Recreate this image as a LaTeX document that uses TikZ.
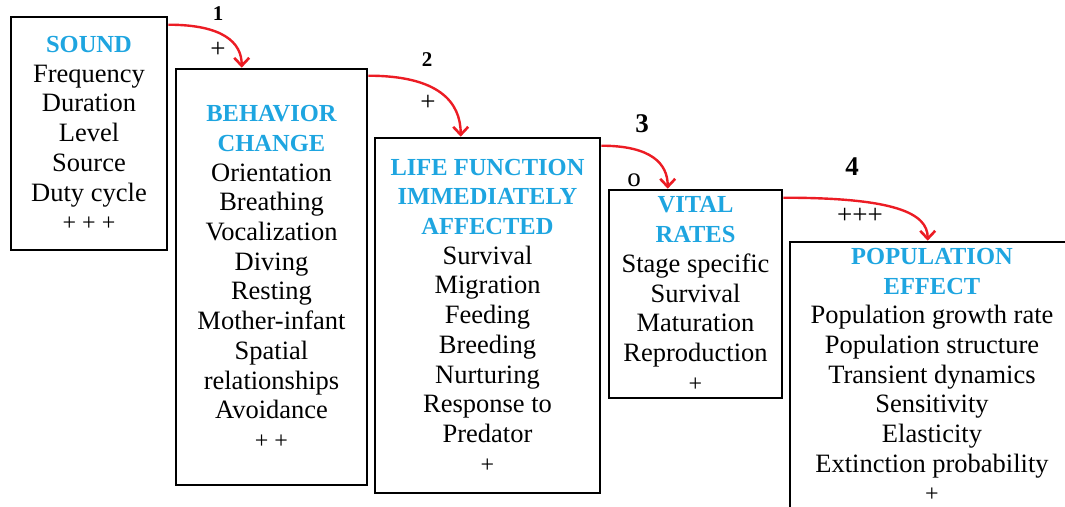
\documentclass[tikz,border=0pt]{standalone}
\usepackage{fontspec}
\setmainfont{Liberation Serif}
\newfontfamily\boxfont{Liberation Serif}
\usetikzlibrary{arrows.meta}
\definecolor{headcyan}{RGB}{30,165,224}
\definecolor{linkred}{RGB}{236,28,36}
\newcommand{\head}[1]{{\fontsize{24.5}{29.7}\selectfont\bfseries\color{headcyan}#1}}
\newcommand{\signs}[1]{{\fontsize{24}{29.7}\selectfont #1}}
\begin{document}
\begin{tikzpicture}[
    x = 1pt, y = -1pt,
    stage/.style = {
        draw,
        rectangle,
        line width = 2.6pt,
        align = center,
        inner sep = 0pt,
        font = \boxfont\fontsize{26.5}{29.7}\selectfont
    },
    link/.style = {
        draw = linkred,
        line width = 2.4pt,
        -{Straight Barb[length=8pt,width=15pt,line width=2.6pt]}
    },
    sign/.style = {font = \boxfont\fontsize{27}{28}\selectfont},
    stepno/.style = {font = \boxfont\fontsize{#1}{26}\selectfont\bfseries}
]
\useasboundingbox (0,0) rectangle (1065,506);
\clip (0,0) rectangle (1065,506);

% Boxes
\node[stage, minimum width = 156pt, minimum height = 233pt] (sound) at (89, 133.5)
    {\head{SOUND}\\Frequency\\Duration\\Level\\Source\\Duty cycle\\\signs{+ + +}};
\node[stage, minimum width = 191pt, minimum height = 416pt] (behav) at (271.5, 277)
    {\head{BEHAVIOR}\\\head{CHANGE}\\Orientation\\Breathing\\Vocalization\\Diving\\Resting\\Mother-infant\\Spatial\\relationships\\Avoidance\\\signs{+ +}};
\node[stage, minimum width = 225pt, minimum height = 355pt] (life) at (487.5, 315.5)
    {\head{LIFE FUNCTION}\\\head{IMMEDIATELY}\\\head{AFFECTED}\\Survival\\Migration\\Feeding\\Breeding\\Nurturing\\Response to\\Predator\\\signs{+}};
\node[stage, minimum width = 173pt, minimum height = 208pt] (vital) at (695.5, 294)
    {\head{VITAL}\\\head{RATES}\\Stage specific\\Survival\\Maturation\\Reproduction\\\signs{+}};
\node[stage, minimum width = 284pt, minimum height = 266pt] (pop) at (932, 375)
    {\head{POPULATION}\\\head{EFFECT}\\Population growth rate\\Population structure\\Transient dynamics\\Sensitivity\\Elasticity\\Extinction probability\\\signs{+}};

% Links
\draw[link] ([yshift=-9pt]sound.north east) .. controls +(55,0) and +(0,-25) .. ([xshift=67pt]behav.north west);
\draw[link] ([yshift=-8pt]behav.north east) .. controls +(70,0) and +(0,-35) .. ([xshift=87pt]life.north west);
\draw[link] ([yshift=-9pt]life.north east) .. controls +(50,0) and +(0,-25) .. ([xshift=60pt]vital.north west);
\draw[link] ([yshift=-9pt]vital.north east) .. controls +(110,0) and +(0,-28) .. ([xshift=139pt]pop.north west);

% Step numbers and signs
\foreach \n/\px/\py/\sz in {1/218/14/21, 2/427/60/21, 3/642/124/27, 4/852/167/27} {
    \node[stepno = \sz] (no\n) at (\px, \py) {\n};
}
\foreach \n/\px/\py/\s in {1/218/50/+, 2/428/103/+, 3/634/180/o, 4/860/216/+++} {
    \node[sign] (sg\n) at (\px, \py) {\s};
}

\end{tikzpicture}
\end{document}
